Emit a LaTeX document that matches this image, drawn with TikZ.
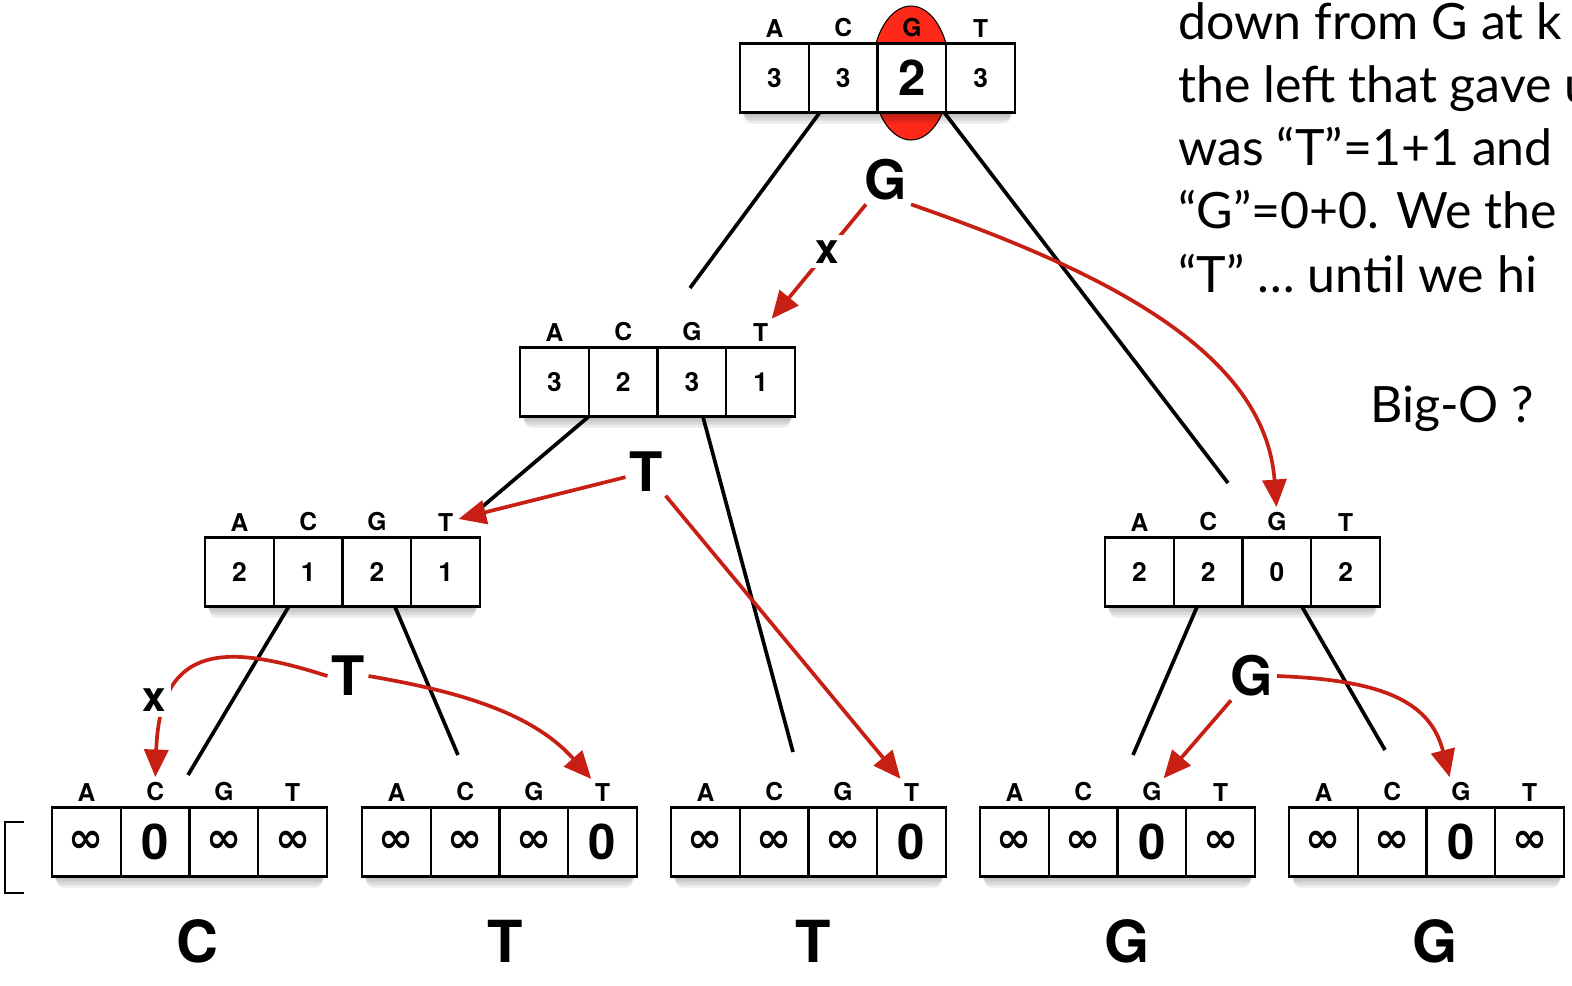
\documentclass[tikz,border=0pt]{standalone}
\usepackage{fontspec}
\usetikzlibrary{positioning,arrows.meta}
\newfontfamily\heros{TeX Gyre Heros}
\newfontfamily\symfont{DejaVu Sans}
\newfontfamily\notefont{Lato}

\definecolor{myred}{rgb}{0.78,0.12,0.08}
\definecolor{hotred}{rgb}{1.0,0.16,0.10}
\newcommand{\LINEPT}{2.1pt}
\newcommand{\INF}{{\symfont\bfseries\fontsize{24}{24}\selectfont ∞}}
\newcommand{\BIG}[1]{{\fontsize{28}{28}\selectfont #1}}

%% one row of four cells with its A C G T header
\newcommand{\ACGTBOX}[7]{%
	\foreach \d in {2,5,8,11}
		\fill[black,opacity=0.08,rounded corners=4pt] ({#2+\d*0.4},{#3-30+\d}) rectangle ({#2+275-\d*0.4},{#3+34.5+\d});
	\node[cellbox] (#1-1) at ({#2+34.4},#3) {#4};
	\node[cellbox,right=0pt of #1-1] (#1-2) {#5};
	\node[cellbox,right=0pt of #1-2] (#1-3) {#6};
	\node[cellbox,right=0pt of #1-3] (#1-4) {#7};
	\node[basehdr,above=0.12cm of #1-1] (#1-A) {A};
	\node[basehdr,above=0.12cm of #1-2] (#1-C) {C};
	\node[basehdr,above=0.12cm of #1-3] (#1-G) {G};
	\node[basehdr,above=0.12cm of #1-4] (#1-T) {T};
}

\tikzset{
	cellbox/.style={draw, fill=white, line width=1.2pt, minimum width=1.375cm, minimum height=1.38cm,
		inner sep=0pt, outer sep=0pt, font=\heros\bfseries\fontsize{15}{15}\selectfont},
	basehdr/.style={inner sep=0pt, font=\heros\bfseries\fontsize{14}{14}\selectfont},
	biglbl/.style={inner sep=2pt, font=\heros\bfseries\fontsize{31}{31}\selectfont},
	xlbl/.style={inner sep=3pt, fill=white, text=black, font=\heros\bfseries\fontsize{24}{24}\selectfont},
	treeline/.style={line width=\LINEPT, color=black},
	redarrow/.style={-{Triangle[length=0.55cm,width=0.48cm]}, color=myred, line width=\LINEPT, shorten >=3pt},
	notetext/.style={inner sep=0pt, align=left, font=\notefont\fontsize{28.5}{36}\selectfont},
}

\begin{document}
\begin{tikzpicture}[x=0.02cm,y=-0.02cm]
	\useasboundingbox (0,0) rectangle (1572,985);

	%%
	\draw[fill=hotred,line width=0.6pt] (911,73) ellipse [x radius=0.78cm, y radius=1.34cm];

	%% the boxes
	\ACGTBOX{root}{740}{78}{3}{3}{\BIG{2}}{3}
	\ACGTBOX{mid}{520}{382}{3}{2}{3}{1}
	\ACGTBOX{lowL}{205}{572}{2}{1}{2}{1}
	\ACGTBOX{lowR}{1105}{572}{2}{2}{0}{2}
	\ACGTBOX{leafA}{52}{842}{\INF}{\BIG{0}}{\INF}{\INF}
	\ACGTBOX{leafB}{362}{842}{\INF}{\INF}{\INF}{\BIG{0}}
	\ACGTBOX{leafC}{671}{842}{\INF}{\INF}{\INF}{\BIG{0}}
	\ACGTBOX{leafD}{980}{842}{\INF}{\INF}{\BIG{0}}{\INF}
	\ACGTBOX{leafE}{1289}{842}{\INF}{\INF}{\BIG{0}}{\INF}

	% piece of a box cut off at the left
	\draw[line width=1.2pt] (24,822) -- (5,822) -- (5,893) -- (24,893);

	%% tree lines
	\coordinate (rootLend) at (690,288);
	\coordinate (rootRend) at (1228,483);
	\coordinate (midLend) at (482,507);
	\coordinate (midRend) at (793,752);
	\coordinate (lowLLend) at (188,775);
	\coordinate (lowLRend) at (458,755);
	\coordinate (lowRLend) at (1133,755);
	\coordinate (lowRRend) at (1385,750);

	\draw[treeline] ([xshift=0.22cm]root-2.south west) -- (rootLend);
	\draw[treeline] ([xshift=-0.04cm]root-3.south east) -- (rootRend);
	\draw[treeline] (mid-1.south east) -- (midLend);
	\draw[treeline] ([xshift=0.22cm]mid-3.south) -- (midRend);
	\draw[treeline] ([xshift=0.3cm]lowL-2.south west) -- (lowLLend);
	\draw[treeline] ([xshift=0.36cm]lowL-3.south) -- (lowLRend);
	\draw[treeline] ([xshift=-0.22cm]lowR-2.south) -- (lowRLend);
	\draw[treeline] ([xshift=0.5cm]lowR-3.south) -- (lowRRend);

	%% letters on the branches
	\node[biglbl] (gtop) at (886,180) {G};
	\node[biglbl] (tmid) at (646,472) {T};
	\node[biglbl] (tlow) at (348,676) {T};
	\node[biglbl] (gright) at (1252,676) {G};

	%% red arrows
	\draw[redarrow] (gtop) -- node[xlbl,pos=0.4] (xtop) {x} (mid-T);
	\draw[redarrow] (gtop.south east) .. controls (1100,270) and (1265,350) .. (lowR-G.north);
	\draw[redarrow] (tmid) -- (lowL-T);
	\draw[redarrow] (tmid) -- (leafC-T);
	\draw[redarrow] (tlow.east) .. controls (450,690) and (530,710) .. (leafB-T.north west);
	\draw[redarrow] (tlow.west) .. controls (230,645) and (160,640) .. (leafA-C.north);
	\node[xlbl] (xlow) at (154,700) {x};
	\draw[redarrow] (gright) -- (leafD-G);
	\draw[redarrow] (gright.east) .. controls (1380,680) and (1430,700) .. (leafE-G.north west);

	%% letters under the leaves
	\node[biglbl,font=\heros\bfseries\fontsize{33}{33}\selectfont] (capC) at (197,941) {C};
	\node[biglbl,font=\heros\bfseries\fontsize{33}{33}\selectfont] (capT1) at (505,941) {T};
	\node[biglbl,font=\heros\bfseries\fontsize{33}{33}\selectfont] (capT2) at (813,941) {T};
	\node[biglbl,font=\heros\bfseries\fontsize{33}{33}\selectfont] (capG1) at (1127,941) {G};
	\node[biglbl,font=\heros\bfseries\fontsize{33}{33}\selectfont] (capG2) at (1435,941) {G};

	%% notes on the right
	\node[notetext,anchor=north west] (notes) at (1178,2) {down from G at k\\the left that gave u\\was “T”=1+1 and\\“G”=0+0. We the\\“T” … until we hi};
	\node[notetext,anchor=base west] (bigo) at (1370,422) {Big-O ?};

\end{tikzpicture}
\end{document}
